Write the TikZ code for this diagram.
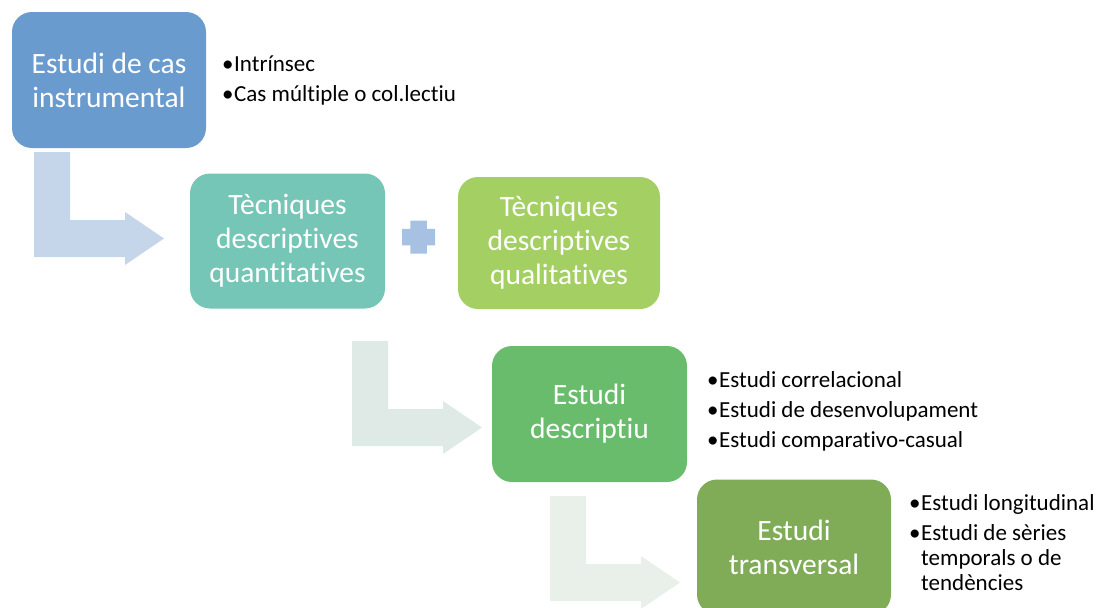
\documentclass[tikz,border=0pt]{standalone}
\usepackage{fontspec}
\setmainfont{Carlito}[Ligatures=NoCommon]
\definecolor{casblue}{HTML}{6A9BCF}
\definecolor{quantteal}{HTML}{76C6B7}
\definecolor{qualgreen}{HTML}{A3CF63}
\definecolor{descgreen}{HTML}{69BC6C}
\definecolor{transgreen}{HTML}{80AC58}
\definecolor{arrowA}{HTML}{C5D5EA}
\definecolor{arrowB}{HTML}{DFEAE6}
\definecolor{arrowC}{HTML}{E9EFE9}
\definecolor{plusblue}{HTML}{A7C1E2}
\newcommand{\itm}[1]{\makebox[12pt][l]{•}#1}
\newcommand{\cont}[1]{\hspace*{12pt}#1}

\begin{document}
\begin{tikzpicture}[x=1pt, y=-1pt,
    box/.style={rounded corners=20pt, text=white, align=center, inner sep=0pt,
        minimum width=194pt, minimum height=136pt, font=\fontsize{29.5}{34}\selectfont},
    list/.style={align=left, anchor=base west, inner sep=0pt, font=\fontsize{23}{30}\selectfont},
    bent/.pic={\fill[pic actions] (0,0) -- (36,0) -- (36,68) -- (91,68) -- (91,60)
        -- (130,86.5) -- (91,113) -- (91,105) -- (0,105) -- cycle;}]
        \useasboundingbox (0,0) rectangle (1101,608);
        \clip (0,0) rectangle (1101,608);

        % arrows
        \pic[fill=arrowA] at (34,152) {bent};
        \pic[fill=arrowB] at (352,341) {bent};
        \pic[fill=arrowC] at (550,496) {bent};

        % boxes
        \node[box, fill=casblue] (inst) at (109,80) {Estudi de cas\\instrumental};
        \node[box, fill=quantteal, minimum width=195pt, minimum height=135pt] (quant) at (287.5,241) {Tècniques\\descriptives\\quantitatives};
        \node[box, fill=qualgreen, minimum width=202pt, minimum height=132pt] (qual) at (559,243) {Tècniques\\descriptives\\qualitatives};
        \node[box, fill=descgreen, minimum width=195pt] (desc) at (589.5,414) {Estudi\\descriptiu};
        \node[box, fill=transgreen, minimum height=135pt] (trans) at (794,547) {Estudi\\transversal};

        % plus
        \fill[plusblue] (418.5,237) ++(-8.25,-16.5) -- ++(16.5,0) -- ++(0,8.25) -- ++(8.25,0) -- ++(0,16.5)
            -- ++(-8.25,0) -- ++(0,8.25) -- ++(-16.5,0) -- ++(0,-8.25) -- ++(-8.25,0) -- ++(0,-16.5)
            -- ++(8.25,0) -- cycle;

        % lists (base = last line)
        \node[list] (instlist) at (222,101) {\itm{Intrínsec}\\\itm{Cas múltiple o col.lectiu}};
        \node[list] (desclist) at (707,447) {\itm{Estudi correlacional}\\\itm{Estudi de desenvolupament}\\\itm{Estudi comparativo-casual}};
        \node[list, font=\fontsize{23}{25}\selectfont] (translist) at (909,590) {\itm{Estudi longitudinal}\\[5pt]\itm{Estudi de sèries}\\\cont{temporals o de}\\\cont{tendències}};
\end{tikzpicture}
\end{document}
